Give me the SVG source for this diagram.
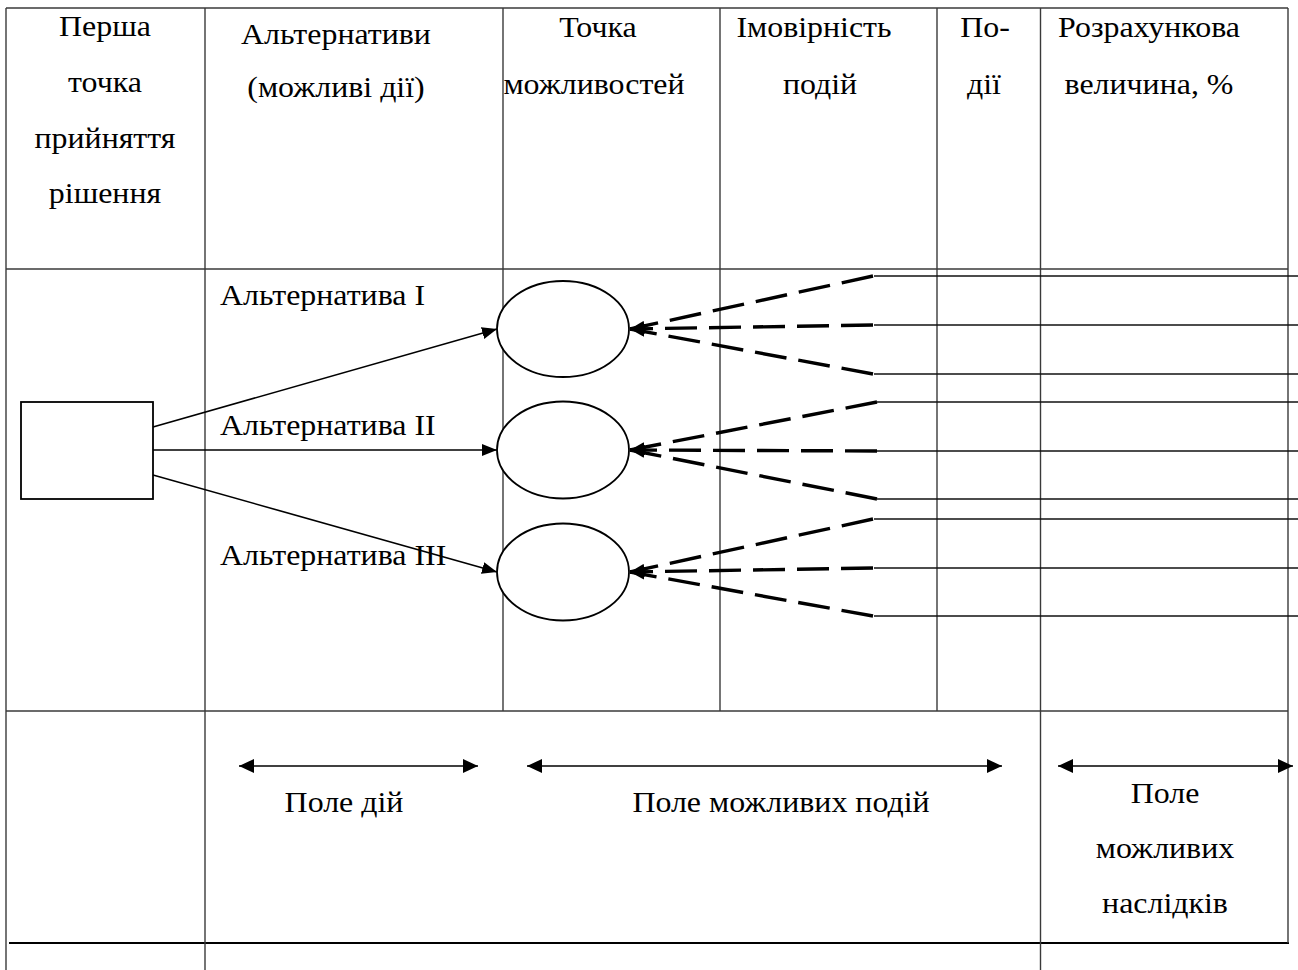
<svg xmlns="http://www.w3.org/2000/svg" width="1298" height="970" viewBox="0 0 1298 970">
<style>
text{font-family:"Liberation Serif","Times New Roman",serif;font-size:29px;fill:#000;transform-box:fill-box;transform-origin:50% 50%;transform:scaleX(1.1)}
.c{text-anchor:middle}
.l{transform-origin:0% 50%}
.grid{stroke:#3a3a3a;stroke-width:1.4;fill:none}
.out{stroke:#111;stroke-width:1.6;fill:none}
.conn{stroke:#000;stroke-width:1.6;fill:none}
.dash{stroke:#000;stroke-width:3.4;fill:none;stroke-dasharray:32 12}
.node{fill:#fff;stroke:#000;stroke-width:1.8}
</style>
<defs>
<marker id="ah" markerUnits="userSpaceOnUse" markerWidth="16" markerHeight="12" refX="15" refY="6" orient="auto"><path d="M0,0 L15,6 L0,12 z" fill="#000"/></marker>
<marker id="ahs" markerUnits="userSpaceOnUse" markerWidth="16" markerHeight="14" refX="15" refY="7" orient="auto-start-reverse"><path d="M0,0 L15,7 L0,14 z" fill="#000"/></marker>
<marker id="ahd" markerUnits="userSpaceOnUse" markerWidth="16" markerHeight="10" refX="15" refY="5" orient="auto"><path d="M0,0 L15,5 L0,10 z" fill="#000"/></marker>
</defs>
<g id="table">
<line class="grid" x1="6" y1="8" x2="1288" y2="8"/>
<line class="grid" x1="6" y1="269" x2="1288" y2="269"/>
<line class="grid" x1="6" y1="711" x2="1288" y2="711"/>
<line x1="9" y1="943" x2="1289" y2="943" stroke="#000" stroke-width="2"/>
<line class="grid" x1="6" y1="8" x2="6" y2="970"/>
<line class="grid" x1="205" y1="8" x2="205" y2="970"/>
<line class="grid" x1="503" y1="8" x2="503" y2="711"/>
<line class="grid" x1="720" y1="8" x2="720" y2="711"/>
<line class="grid" x1="937" y1="8" x2="937" y2="711"/>
<line class="grid" x1="1040.5" y1="8" x2="1040.5" y2="970"/>
<line class="grid" x1="1288" y1="8" x2="1288" y2="943"/>
</g>
<g id="headers">
<text class="c" x="105" y="36">Перша</text>
<text class="c" x="105" y="92">точка</text>
<text class="c" x="105" y="148">прийняття</text>
<text class="c" x="105" y="203">рішення</text>
<text class="c" x="336" y="44">Альтернативи</text>
<text class="c" x="336" y="97">(можливі дії)</text>
<text class="c" x="598" y="37">Точка</text>
<text class="c" x="594" y="94">можливостей</text>
<text class="c" x="814" y="37">Імовірність</text>
<text class="c" x="820" y="94">подій</text>
<text class="c" x="985" y="37">По-</text>
<text class="c" x="984" y="94">дії</text>
<text class="c" x="1149" y="37">Розрахункова</text>
<text class="c" x="1149" y="94">величина, %</text>
</g>
<g id="decision">
<rect class="node" x="21" y="402" width="132" height="97"/>
</g>
<g id="chance1"><ellipse class="node" cx="563" cy="329" rx="66" ry="48"/></g>
<g id="chance2"><ellipse class="node" cx="563" cy="450" rx="66" ry="48.5"/></g>
<g id="chance3"><ellipse class="node" cx="563" cy="572" rx="66" ry="48.5"/></g>
<g id="labels">
<text class="l" x="220" y="305">Альтернатива I</text>
<text class="l" x="220" y="435">Альтернатива II</text>
<text class="l" x="220" y="565">Альтернатива III</text>
</g>
<g id="connectors">
<line class="conn" x1="153" y1="427" x2="497" y2="329" marker-end="url(#ah)"/>
<line class="conn" x1="153" y1="450" x2="497" y2="450" marker-end="url(#ah)"/>
<line class="conn" x1="153" y1="475" x2="497" y2="572" marker-end="url(#ah)"/>
<path class="dash" d="M873,276 L630,329" marker-end="url(#ahd)"/>
<path class="dash" d="M873,325 L630,329" marker-end="url(#ahd)"/>
<path class="dash" d="M873,374 L630,329" marker-end="url(#ahd)"/>
<path class="dash" d="M877,402 L630,450" marker-end="url(#ahd)"/>
<path class="dash" d="M877,451 L630,450" marker-end="url(#ahd)"/>
<path class="dash" d="M877,499 L630,450" marker-end="url(#ahd)"/>
<path class="dash" d="M873,519 L630,572" marker-end="url(#ahd)"/>
<path class="dash" d="M873,568 L630,572" marker-end="url(#ahd)"/>
<path class="dash" d="M873,616 L630,572" marker-end="url(#ahd)"/>
<line class="out" x1="874" y1="276" x2="1298" y2="276"/>
<line class="out" x1="874" y1="325" x2="1298" y2="325"/>
<line class="out" x1="874" y1="374" x2="1298" y2="374"/>
<line class="out" x1="877" y1="402" x2="1298" y2="402"/>
<line class="out" x1="877" y1="451" x2="1298" y2="451"/>
<line class="out" x1="877" y1="499" x2="1298" y2="499"/>
<line class="out" x1="874" y1="519" x2="1298" y2="519"/>
<line class="out" x1="874" y1="568" x2="1298" y2="568"/>
<line class="out" x1="874" y1="616" x2="1298" y2="616"/>
<line class="conn" stroke-width="2" x1="239" y1="766" x2="478" y2="766" marker-start="url(#ahs)" marker-end="url(#ahs)"/>
<line class="conn" stroke-width="2" x1="527" y1="766" x2="1002" y2="766" marker-start="url(#ahs)" marker-end="url(#ahs)"/>
<line class="conn" stroke-width="2" x1="1058" y1="766" x2="1293" y2="766" marker-start="url(#ahs)" marker-end="url(#ahs)"/>
</g>
<g id="fields">
<text class="c" x="344" y="812">Поле дій</text>
<text class="c" x="781" y="812">Поле можливих подій</text>
<text class="c" x="1165" y="803">Поле</text>
<text class="c" x="1165" y="858">можливих</text>
<text class="c" x="1165" y="913">наслідків</text>
</g>
</svg>
